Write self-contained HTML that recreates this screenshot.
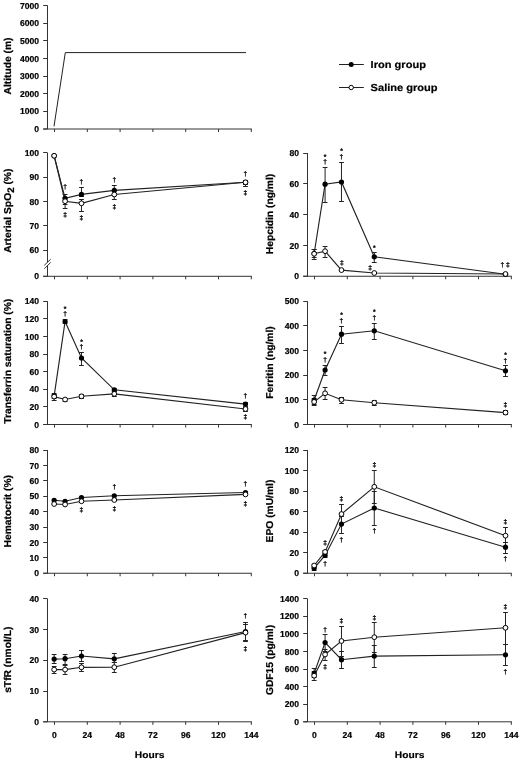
<!DOCTYPE html>
<html><head><meta charset="utf-8"><style>
html,body{margin:0;padding:0;background:#fff;overflow:hidden;}
svg{display:block;will-change:transform;}
text{font-family:"Liberation Sans",sans-serif;font-weight:bold;fill:#000;text-rendering:geometricPrecision;stroke:#000;stroke-width:0.2px;}
.tk{font-size:8.6px;}
.yl{font-size:10px;}
.lg{font-size:10.7px;}
.hr{font-size:10px;}
.sy{font-size:6.7px;stroke:#000;stroke-width:0.25px;}
</style></head><body>
<svg width="520" height="761" viewBox="0 0 520 761">
<rect width="520" height="761" fill="#fff"/>
<line x1="47.5" y1="5.5" x2="47.5" y2="129" stroke="#333" stroke-width="1"/>
<line x1="43.2" y1="129" x2="251.8048" y2="129" stroke="#333" stroke-width="1"/>
<line x1="54.50" y1="129" x2="54.50" y2="132" stroke="#333" stroke-width="1"/>
<line x1="87.30" y1="129" x2="87.30" y2="132" stroke="#333" stroke-width="1"/>
<line x1="120.10" y1="129" x2="120.10" y2="132" stroke="#333" stroke-width="1"/>
<line x1="152.90" y1="129" x2="152.90" y2="132" stroke="#333" stroke-width="1"/>
<line x1="185.70" y1="129" x2="185.70" y2="132" stroke="#333" stroke-width="1"/>
<line x1="218.50" y1="129" x2="218.50" y2="132" stroke="#333" stroke-width="1"/>
<line x1="251.30" y1="129" x2="251.30" y2="132" stroke="#333" stroke-width="1"/>
<line x1="43.2" y1="129.00" x2="47.5" y2="129.00" stroke="#333" stroke-width="1"/>
<text transform="translate(39.05,132.10) scale(1,1.0)" text-anchor="end" class="tk">0</text>
<line x1="43.2" y1="111.50" x2="47.5" y2="111.50" stroke="#333" stroke-width="1"/>
<text transform="translate(39.05,114.46) scale(1,1.0)" text-anchor="end" class="tk">1000</text>
<line x1="43.2" y1="93.50" x2="47.5" y2="93.50" stroke="#333" stroke-width="1"/>
<text transform="translate(39.05,96.82) scale(1,1.0)" text-anchor="end" class="tk">2000</text>
<line x1="43.2" y1="76.50" x2="47.5" y2="76.50" stroke="#333" stroke-width="1"/>
<text transform="translate(39.05,79.17) scale(1,1.0)" text-anchor="end" class="tk">3000</text>
<line x1="43.2" y1="58.50" x2="47.5" y2="58.50" stroke="#333" stroke-width="1"/>
<text transform="translate(39.05,61.53) scale(1,1.0)" text-anchor="end" class="tk">4000</text>
<line x1="43.2" y1="40.50" x2="47.5" y2="40.50" stroke="#333" stroke-width="1"/>
<text transform="translate(39.05,43.89) scale(1,1.0)" text-anchor="end" class="tk">5000</text>
<line x1="43.2" y1="23.50" x2="47.5" y2="23.50" stroke="#333" stroke-width="1"/>
<text transform="translate(39.05,26.24) scale(1,1.0)" text-anchor="end" class="tk">6000</text>
<line x1="43.2" y1="5.50" x2="47.5" y2="5.50" stroke="#333" stroke-width="1"/>
<text transform="translate(39.05,8.60) scale(1,1.0)" text-anchor="end" class="tk">7000</text>
<text transform="translate(11.2,66) rotate(-90) scale(1.027,1.0)" text-anchor="middle" class="yl">Altitude (m)</text>
<polyline points="54,126.3 65.3,52.6 246,52.6" fill="none" stroke="#222" stroke-width="1"/>
<line x1="339" y1="64.5" x2="363.8" y2="64.5" stroke="#222" stroke-width="1"/>
<circle cx="351.2" cy="64.4" r="2.5" fill="#000"/>
<text transform="translate(370.6,67.9) scale(1.035,0.95)" class="lg">Iron group</text>
<line x1="339" y1="87.5" x2="363.8" y2="87.5" stroke="#222" stroke-width="1"/>
<circle cx="351.2" cy="87.5" r="2.2" fill="#fff" stroke="#000" stroke-width="1"/>
<text transform="translate(370.6,91.2) scale(1.035,0.95)" class="lg">Saline group</text>
<line x1="47.5" y1="152.8" x2="47.5" y2="276.3" stroke="#333" stroke-width="1"/>
<line x1="43.2" y1="276.3" x2="251.8048" y2="276.3" stroke="#333" stroke-width="1"/>
<line x1="54.50" y1="276.3" x2="54.50" y2="279.3" stroke="#333" stroke-width="1"/>
<line x1="87.30" y1="276.3" x2="87.30" y2="279.3" stroke="#333" stroke-width="1"/>
<line x1="120.10" y1="276.3" x2="120.10" y2="279.3" stroke="#333" stroke-width="1"/>
<line x1="152.90" y1="276.3" x2="152.90" y2="279.3" stroke="#333" stroke-width="1"/>
<line x1="185.70" y1="276.3" x2="185.70" y2="279.3" stroke="#333" stroke-width="1"/>
<line x1="218.50" y1="276.3" x2="218.50" y2="279.3" stroke="#333" stroke-width="1"/>
<line x1="251.30" y1="276.3" x2="251.30" y2="279.3" stroke="#333" stroke-width="1"/>
<line x1="43.2" y1="276.30" x2="47.5" y2="276.30" stroke="#333" stroke-width="1"/>
<text transform="translate(39.05,279.40) scale(1,1.0)" text-anchor="end" class="tk">0</text>
<line x1="43.2" y1="250.50" x2="47.5" y2="250.50" stroke="#333" stroke-width="1"/>
<text transform="translate(39.05,253.10) scale(1,1.0)" text-anchor="end" class="tk">60</text>
<line x1="43.2" y1="225.50" x2="47.5" y2="225.50" stroke="#333" stroke-width="1"/>
<text transform="translate(39.05,228.80) scale(1,1.0)" text-anchor="end" class="tk">70</text>
<line x1="43.2" y1="201.50" x2="47.5" y2="201.50" stroke="#333" stroke-width="1"/>
<text transform="translate(39.05,204.50) scale(1,1.0)" text-anchor="end" class="tk">80</text>
<line x1="43.2" y1="177.50" x2="47.5" y2="177.50" stroke="#333" stroke-width="1"/>
<text transform="translate(39.05,180.20) scale(1,1.0)" text-anchor="end" class="tk">90</text>
<line x1="43.2" y1="152.50" x2="47.5" y2="152.50" stroke="#333" stroke-width="1"/>
<text transform="translate(39.05,155.90) scale(1,1.0)" text-anchor="end" class="tk">100</text>
<rect x="46" y="262.3" width="3" height="3.3" fill="#fff"/>
<line x1="44.2" y1="265.4" x2="50.7" y2="259.2" stroke="#333" stroke-width="1"/>
<line x1="44.4" y1="268.7" x2="50.7" y2="262.4" stroke="#333" stroke-width="1"/>
<text transform="translate(11.2,210.7) rotate(-90) scale(1.027,1.0)" text-anchor="middle" class="yl">Arterial SpO<tspan font-size="9.5" dy="2.9">2</tspan><tspan dy="-2.9"> (%)</tspan></text>
<line x1="65.08" y1="194.20" x2="65.08" y2="204.50" stroke="#222" stroke-width="1"/>
<line x1="62.68" y1="194.50" x2="67.48" y2="194.50" stroke="#222" stroke-width="1"/>
<line x1="62.68" y1="204.50" x2="67.48" y2="204.50" stroke="#222" stroke-width="1"/>
<line x1="81.48" y1="187.40" x2="81.48" y2="196.50" stroke="#222" stroke-width="1"/>
<line x1="79.08" y1="187.50" x2="83.88" y2="187.50" stroke="#222" stroke-width="1"/>
<line x1="79.08" y1="196.50" x2="83.88" y2="196.50" stroke="#222" stroke-width="1"/>
<line x1="114.28" y1="185.80" x2="114.28" y2="194.00" stroke="#222" stroke-width="1"/>
<line x1="111.88" y1="185.50" x2="116.68" y2="185.50" stroke="#222" stroke-width="1"/>
<line x1="111.88" y1="194.50" x2="116.68" y2="194.50" stroke="#222" stroke-width="1"/>
<line x1="245.49" y1="180.00" x2="245.49" y2="184.00" stroke="#222" stroke-width="1"/>
<line x1="243.09" y1="180.50" x2="247.89" y2="180.50" stroke="#222" stroke-width="1"/>
<line x1="243.09" y1="184.50" x2="247.89" y2="184.50" stroke="#222" stroke-width="1"/>
<line x1="65.08" y1="197.00" x2="65.08" y2="208.50" stroke="#222" stroke-width="1"/>
<line x1="62.68" y1="197.50" x2="67.48" y2="197.50" stroke="#222" stroke-width="1"/>
<line x1="62.68" y1="208.50" x2="67.48" y2="208.50" stroke="#222" stroke-width="1"/>
<line x1="81.48" y1="199.00" x2="81.48" y2="211.80" stroke="#222" stroke-width="1"/>
<line x1="79.08" y1="199.50" x2="83.88" y2="199.50" stroke="#222" stroke-width="1"/>
<line x1="79.08" y1="211.50" x2="83.88" y2="211.50" stroke="#222" stroke-width="1"/>
<line x1="114.28" y1="190.00" x2="114.28" y2="199.20" stroke="#222" stroke-width="1"/>
<line x1="111.88" y1="190.50" x2="116.68" y2="190.50" stroke="#222" stroke-width="1"/>
<line x1="111.88" y1="199.50" x2="116.68" y2="199.50" stroke="#222" stroke-width="1"/>
<line x1="245.49" y1="180.00" x2="245.49" y2="186.20" stroke="#222" stroke-width="1"/>
<line x1="243.09" y1="180.50" x2="247.89" y2="180.50" stroke="#222" stroke-width="1"/>
<line x1="243.09" y1="186.50" x2="247.89" y2="186.50" stroke="#222" stroke-width="1"/>
<polyline points="54.15,155.80 65.08,201.20 81.48,203.30 114.28,194.50 245.49,182.30" fill="none" stroke="#222" stroke-width="1.15"/>
<polyline points="54.15,155.80 65.08,198.30 81.48,194.40 114.28,190.40 245.49,182.30" fill="none" stroke="#222" stroke-width="1.15"/>
<circle cx="54.15" cy="155.80" r="2.6" fill="#000"/>
<circle cx="65.08" cy="198.30" r="2.6" fill="#000"/>
<circle cx="81.48" cy="194.40" r="2.6" fill="#000"/>
<circle cx="114.28" cy="190.40" r="2.6" fill="#000"/>
<circle cx="245.49" cy="182.30" r="2.6" fill="#000"/>
<circle cx="54.15" cy="155.80" r="2.4" fill="#fff" stroke="#000" stroke-width="1"/>
<circle cx="65.08" cy="201.20" r="2.4" fill="#fff" stroke="#000" stroke-width="1"/>
<circle cx="81.48" cy="203.30" r="2.4" fill="#fff" stroke="#000" stroke-width="1"/>
<circle cx="114.28" cy="194.50" r="2.4" fill="#fff" stroke="#000" stroke-width="1"/>
<circle cx="245.49" cy="182.30" r="2.4" fill="#fff" stroke="#000" stroke-width="1"/>
<text x="65.08" y="189.20" text-anchor="middle" class="sy">†</text>
<text x="65.08" y="216.70" text-anchor="middle" class="sy">‡</text>
<text x="81.48" y="183.70" text-anchor="middle" class="sy">†</text>
<text x="81.48" y="220.40" text-anchor="middle" class="sy">‡</text>
<text x="114.28" y="181.80" text-anchor="middle" class="sy">†</text>
<text x="114.28" y="208.50" text-anchor="middle" class="sy">‡</text>
<text x="245.49" y="176.20" text-anchor="middle" class="sy">†</text>
<text x="245.49" y="194.70" text-anchor="middle" class="sy">‡</text>
<line x1="47.5" y1="301.244" x2="47.5" y2="424.5" stroke="#333" stroke-width="1"/>
<line x1="43.2" y1="424.5" x2="251.8048" y2="424.5" stroke="#333" stroke-width="1"/>
<line x1="54.50" y1="424.5" x2="54.50" y2="427.5" stroke="#333" stroke-width="1"/>
<line x1="87.30" y1="424.5" x2="87.30" y2="427.5" stroke="#333" stroke-width="1"/>
<line x1="120.10" y1="424.5" x2="120.10" y2="427.5" stroke="#333" stroke-width="1"/>
<line x1="152.90" y1="424.5" x2="152.90" y2="427.5" stroke="#333" stroke-width="1"/>
<line x1="185.70" y1="424.5" x2="185.70" y2="427.5" stroke="#333" stroke-width="1"/>
<line x1="218.50" y1="424.5" x2="218.50" y2="427.5" stroke="#333" stroke-width="1"/>
<line x1="251.30" y1="424.5" x2="251.30" y2="427.5" stroke="#333" stroke-width="1"/>
<line x1="43.2" y1="424.50" x2="47.5" y2="424.50" stroke="#333" stroke-width="1"/>
<text transform="translate(39.05,427.60) scale(1,1.0)" text-anchor="end" class="tk">0</text>
<line x1="43.2" y1="406.50" x2="47.5" y2="406.50" stroke="#333" stroke-width="1"/>
<text transform="translate(39.05,409.99) scale(1,1.0)" text-anchor="end" class="tk">20</text>
<line x1="43.2" y1="389.50" x2="47.5" y2="389.50" stroke="#333" stroke-width="1"/>
<text transform="translate(39.05,392.39) scale(1,1.0)" text-anchor="end" class="tk">40</text>
<line x1="43.2" y1="371.50" x2="47.5" y2="371.50" stroke="#333" stroke-width="1"/>
<text transform="translate(39.05,374.78) scale(1,1.0)" text-anchor="end" class="tk">60</text>
<line x1="43.2" y1="354.50" x2="47.5" y2="354.50" stroke="#333" stroke-width="1"/>
<text transform="translate(39.05,357.17) scale(1,1.0)" text-anchor="end" class="tk">80</text>
<line x1="43.2" y1="336.50" x2="47.5" y2="336.50" stroke="#333" stroke-width="1"/>
<text transform="translate(39.05,339.56) scale(1,1.0)" text-anchor="end" class="tk">100</text>
<line x1="43.2" y1="318.50" x2="47.5" y2="318.50" stroke="#333" stroke-width="1"/>
<text transform="translate(39.05,321.95) scale(1,1.0)" text-anchor="end" class="tk">120</text>
<line x1="43.2" y1="301.50" x2="47.5" y2="301.50" stroke="#333" stroke-width="1"/>
<text transform="translate(39.05,304.35) scale(1,1.0)" text-anchor="end" class="tk">140</text>
<text transform="translate(11.2,361.2) rotate(-90) scale(1.027,1.0)" text-anchor="middle" class="yl">Transferrin saturation (%)</text>
<line x1="54.15" y1="393.80" x2="54.15" y2="398.00" stroke="#222" stroke-width="1"/>
<line x1="51.75" y1="393.50" x2="56.55" y2="393.50" stroke="#222" stroke-width="1"/>
<line x1="51.75" y1="398.50" x2="56.55" y2="398.50" stroke="#222" stroke-width="1"/>
<line x1="65.08" y1="319.80" x2="65.08" y2="323.30" stroke="#222" stroke-width="1"/>
<line x1="62.68" y1="319.50" x2="67.48" y2="319.50" stroke="#222" stroke-width="1"/>
<line x1="62.68" y1="323.50" x2="67.48" y2="323.50" stroke="#222" stroke-width="1"/>
<line x1="81.48" y1="352.40" x2="81.48" y2="365.20" stroke="#222" stroke-width="1"/>
<line x1="79.08" y1="352.50" x2="83.88" y2="352.50" stroke="#222" stroke-width="1"/>
<line x1="79.08" y1="365.50" x2="83.88" y2="365.50" stroke="#222" stroke-width="1"/>
<line x1="114.28" y1="388.10" x2="114.28" y2="391.50" stroke="#222" stroke-width="1"/>
<line x1="111.88" y1="388.50" x2="116.68" y2="388.50" stroke="#222" stroke-width="1"/>
<line x1="111.88" y1="391.50" x2="116.68" y2="391.50" stroke="#222" stroke-width="1"/>
<line x1="245.49" y1="402.00" x2="245.49" y2="406.00" stroke="#222" stroke-width="1"/>
<line x1="243.09" y1="402.50" x2="247.89" y2="402.50" stroke="#222" stroke-width="1"/>
<line x1="243.09" y1="406.50" x2="247.89" y2="406.50" stroke="#222" stroke-width="1"/>
<line x1="54.15" y1="394.50" x2="54.15" y2="400.20" stroke="#222" stroke-width="1"/>
<line x1="51.75" y1="394.50" x2="56.55" y2="394.50" stroke="#222" stroke-width="1"/>
<line x1="51.75" y1="400.50" x2="56.55" y2="400.50" stroke="#222" stroke-width="1"/>
<line x1="65.08" y1="398.00" x2="65.08" y2="401.00" stroke="#222" stroke-width="1"/>
<line x1="62.68" y1="398.50" x2="67.48" y2="398.50" stroke="#222" stroke-width="1"/>
<line x1="62.68" y1="401.50" x2="67.48" y2="401.50" stroke="#222" stroke-width="1"/>
<line x1="81.48" y1="394.20" x2="81.48" y2="398.80" stroke="#222" stroke-width="1"/>
<line x1="79.08" y1="394.50" x2="83.88" y2="394.50" stroke="#222" stroke-width="1"/>
<line x1="79.08" y1="398.50" x2="83.88" y2="398.50" stroke="#222" stroke-width="1"/>
<line x1="114.28" y1="391.80" x2="114.28" y2="396.20" stroke="#222" stroke-width="1"/>
<line x1="111.88" y1="391.50" x2="116.68" y2="391.50" stroke="#222" stroke-width="1"/>
<line x1="111.88" y1="396.50" x2="116.68" y2="396.50" stroke="#222" stroke-width="1"/>
<line x1="245.49" y1="407.00" x2="245.49" y2="411.00" stroke="#222" stroke-width="1"/>
<line x1="243.09" y1="407.50" x2="247.89" y2="407.50" stroke="#222" stroke-width="1"/>
<line x1="243.09" y1="411.50" x2="247.89" y2="411.50" stroke="#222" stroke-width="1"/>
<polyline points="54.15,396.60 65.08,399.50 81.48,396.30 114.28,393.85 245.49,409.00" fill="none" stroke="#222" stroke-width="1.15"/>
<polyline points="54.15,395.80 65.08,321.50 81.48,358.00 114.28,389.80 245.49,404.10" fill="none" stroke="#222" stroke-width="1.15"/>
<circle cx="54.15" cy="395.80" r="2.6" fill="#000"/>
<circle cx="65.08" cy="321.50" r="2.6" fill="#000"/>
<circle cx="81.48" cy="358.00" r="2.6" fill="#000"/>
<circle cx="114.28" cy="389.80" r="2.6" fill="#000"/>
<circle cx="245.49" cy="404.10" r="2.6" fill="#000"/>
<circle cx="54.15" cy="396.60" r="2.4" fill="#fff" stroke="#000" stroke-width="1"/>
<circle cx="65.08" cy="399.50" r="2.4" fill="#fff" stroke="#000" stroke-width="1"/>
<circle cx="81.48" cy="396.30" r="2.4" fill="#fff" stroke="#000" stroke-width="1"/>
<circle cx="114.28" cy="393.85" r="2.4" fill="#fff" stroke="#000" stroke-width="1"/>
<circle cx="245.49" cy="409.00" r="2.4" fill="#fff" stroke="#000" stroke-width="1"/>
<text x="65.08" y="310.60" text-anchor="middle" class="sy">*</text>
<text x="65.08" y="316.30" text-anchor="middle" class="sy">†</text>
<text x="81.48" y="344.30" text-anchor="middle" class="sy">*</text>
<text x="81.48" y="349.00" text-anchor="middle" class="sy">†</text>
<text x="245.49" y="398.30" text-anchor="middle" class="sy">†</text>
<text x="245.49" y="419.00" text-anchor="middle" class="sy">‡</text>
<line x1="47.5" y1="450.002" x2="47.5" y2="573.25" stroke="#333" stroke-width="1"/>
<line x1="43.2" y1="573.25" x2="251.8048" y2="573.25" stroke="#333" stroke-width="1"/>
<line x1="54.50" y1="573.25" x2="54.50" y2="576.25" stroke="#333" stroke-width="1"/>
<line x1="87.30" y1="573.25" x2="87.30" y2="576.25" stroke="#333" stroke-width="1"/>
<line x1="120.10" y1="573.25" x2="120.10" y2="576.25" stroke="#333" stroke-width="1"/>
<line x1="152.90" y1="573.25" x2="152.90" y2="576.25" stroke="#333" stroke-width="1"/>
<line x1="185.70" y1="573.25" x2="185.70" y2="576.25" stroke="#333" stroke-width="1"/>
<line x1="218.50" y1="573.25" x2="218.50" y2="576.25" stroke="#333" stroke-width="1"/>
<line x1="251.30" y1="573.25" x2="251.30" y2="576.25" stroke="#333" stroke-width="1"/>
<line x1="43.2" y1="573.25" x2="47.5" y2="573.25" stroke="#333" stroke-width="1"/>
<text transform="translate(39.05,576.35) scale(1,1.0)" text-anchor="end" class="tk">0</text>
<line x1="43.2" y1="557.50" x2="47.5" y2="557.50" stroke="#333" stroke-width="1"/>
<text transform="translate(39.05,560.95) scale(1,1.0)" text-anchor="end" class="tk">10</text>
<line x1="43.2" y1="542.50" x2="47.5" y2="542.50" stroke="#333" stroke-width="1"/>
<text transform="translate(39.05,545.54) scale(1,1.0)" text-anchor="end" class="tk">20</text>
<line x1="43.2" y1="527.50" x2="47.5" y2="527.50" stroke="#333" stroke-width="1"/>
<text transform="translate(39.05,530.13) scale(1,1.0)" text-anchor="end" class="tk">30</text>
<line x1="43.2" y1="511.50" x2="47.5" y2="511.50" stroke="#333" stroke-width="1"/>
<text transform="translate(39.05,514.73) scale(1,1.0)" text-anchor="end" class="tk">40</text>
<line x1="43.2" y1="496.50" x2="47.5" y2="496.50" stroke="#333" stroke-width="1"/>
<text transform="translate(39.05,499.32) scale(1,1.0)" text-anchor="end" class="tk">50</text>
<line x1="43.2" y1="480.50" x2="47.5" y2="480.50" stroke="#333" stroke-width="1"/>
<text transform="translate(39.05,483.92) scale(1,1.0)" text-anchor="end" class="tk">60</text>
<line x1="43.2" y1="465.50" x2="47.5" y2="465.50" stroke="#333" stroke-width="1"/>
<text transform="translate(39.05,468.51) scale(1,1.0)" text-anchor="end" class="tk">70</text>
<line x1="43.2" y1="450.50" x2="47.5" y2="450.50" stroke="#333" stroke-width="1"/>
<text transform="translate(39.05,453.10) scale(1,1.0)" text-anchor="end" class="tk">80</text>
<text transform="translate(11.2,511.2) rotate(-90) scale(1.027,1.0)" text-anchor="middle" class="yl">Hematocrit (%)</text>
<polyline points="54.15,504.00 65.08,504.50 81.48,501.25 114.28,500.00 245.49,494.40" fill="none" stroke="#222" stroke-width="1.15"/>
<polyline points="54.15,500.25 65.08,501.25 81.48,497.50 114.28,495.75 245.49,492.50" fill="none" stroke="#222" stroke-width="1.15"/>
<circle cx="54.15" cy="500.25" r="2.6" fill="#000"/>
<circle cx="65.08" cy="501.25" r="2.6" fill="#000"/>
<circle cx="81.48" cy="497.50" r="2.6" fill="#000"/>
<circle cx="114.28" cy="495.75" r="2.6" fill="#000"/>
<circle cx="245.49" cy="492.50" r="2.6" fill="#000"/>
<circle cx="54.15" cy="504.00" r="2.4" fill="#fff" stroke="#000" stroke-width="1"/>
<circle cx="65.08" cy="504.50" r="2.4" fill="#fff" stroke="#000" stroke-width="1"/>
<circle cx="81.48" cy="501.25" r="2.4" fill="#fff" stroke="#000" stroke-width="1"/>
<circle cx="114.28" cy="500.00" r="2.4" fill="#fff" stroke="#000" stroke-width="1"/>
<circle cx="245.49" cy="494.40" r="2.4" fill="#fff" stroke="#000" stroke-width="1"/>
<text x="81.48" y="511.70" text-anchor="middle" class="sy">‡</text>
<text x="114.28" y="489.30" text-anchor="middle" class="sy">†</text>
<text x="114.28" y="510.95" text-anchor="middle" class="sy">‡</text>
<text x="245.49" y="486.10" text-anchor="middle" class="sy">†</text>
<text x="245.49" y="506.20" text-anchor="middle" class="sy">‡</text>
<line x1="47.5" y1="598.76" x2="47.5" y2="721.8" stroke="#333" stroke-width="1"/>
<line x1="43.2" y1="721.8" x2="251.8048" y2="721.8" stroke="#333" stroke-width="1"/>
<line x1="54.50" y1="721.8" x2="54.50" y2="724.8" stroke="#333" stroke-width="1"/>
<line x1="87.30" y1="721.8" x2="87.30" y2="724.8" stroke="#333" stroke-width="1"/>
<line x1="120.10" y1="721.8" x2="120.10" y2="724.8" stroke="#333" stroke-width="1"/>
<line x1="152.90" y1="721.8" x2="152.90" y2="724.8" stroke="#333" stroke-width="1"/>
<line x1="185.70" y1="721.8" x2="185.70" y2="724.8" stroke="#333" stroke-width="1"/>
<line x1="218.50" y1="721.8" x2="218.50" y2="724.8" stroke="#333" stroke-width="1"/>
<line x1="251.30" y1="721.8" x2="251.30" y2="724.8" stroke="#333" stroke-width="1"/>
<line x1="43.2" y1="721.80" x2="47.5" y2="721.80" stroke="#333" stroke-width="1"/>
<text transform="translate(39.05,724.90) scale(1,1.0)" text-anchor="end" class="tk">0</text>
<line x1="43.2" y1="691.50" x2="47.5" y2="691.50" stroke="#333" stroke-width="1"/>
<text transform="translate(39.05,694.14) scale(1,1.0)" text-anchor="end" class="tk">10</text>
<line x1="43.2" y1="660.50" x2="47.5" y2="660.50" stroke="#333" stroke-width="1"/>
<text transform="translate(39.05,663.38) scale(1,1.0)" text-anchor="end" class="tk">20</text>
<line x1="43.2" y1="629.50" x2="47.5" y2="629.50" stroke="#333" stroke-width="1"/>
<text transform="translate(39.05,632.62) scale(1,1.0)" text-anchor="end" class="tk">30</text>
<line x1="43.2" y1="598.50" x2="47.5" y2="598.50" stroke="#333" stroke-width="1"/>
<text transform="translate(39.05,601.86) scale(1,1.0)" text-anchor="end" class="tk">40</text>
<text transform="translate(11.2,659.75) rotate(-90) scale(1.027,1.0)" text-anchor="middle" class="yl">sTfR (nmol/L)</text>
<line x1="54.15" y1="654.60" x2="54.15" y2="663.80" stroke="#222" stroke-width="1"/>
<line x1="51.75" y1="654.50" x2="56.55" y2="654.50" stroke="#222" stroke-width="1"/>
<line x1="51.75" y1="663.50" x2="56.55" y2="663.50" stroke="#222" stroke-width="1"/>
<line x1="65.08" y1="654.10" x2="65.08" y2="664.60" stroke="#222" stroke-width="1"/>
<line x1="62.68" y1="654.50" x2="67.48" y2="654.50" stroke="#222" stroke-width="1"/>
<line x1="62.68" y1="664.50" x2="67.48" y2="664.50" stroke="#222" stroke-width="1"/>
<line x1="81.48" y1="650.80" x2="81.48" y2="661.50" stroke="#222" stroke-width="1"/>
<line x1="79.08" y1="650.50" x2="83.88" y2="650.50" stroke="#222" stroke-width="1"/>
<line x1="79.08" y1="661.50" x2="83.88" y2="661.50" stroke="#222" stroke-width="1"/>
<line x1="114.28" y1="653.70" x2="114.28" y2="662.30" stroke="#222" stroke-width="1"/>
<line x1="111.88" y1="653.50" x2="116.68" y2="653.50" stroke="#222" stroke-width="1"/>
<line x1="111.88" y1="662.50" x2="116.68" y2="662.50" stroke="#222" stroke-width="1"/>
<line x1="245.49" y1="622.40" x2="245.49" y2="640.60" stroke="#222" stroke-width="1"/>
<line x1="243.09" y1="622.50" x2="247.89" y2="622.50" stroke="#222" stroke-width="1"/>
<line x1="243.09" y1="640.50" x2="247.89" y2="640.50" stroke="#222" stroke-width="1"/>
<line x1="54.15" y1="666.90" x2="54.15" y2="673.50" stroke="#222" stroke-width="1"/>
<line x1="51.75" y1="666.50" x2="56.55" y2="666.50" stroke="#222" stroke-width="1"/>
<line x1="51.75" y1="673.50" x2="56.55" y2="673.50" stroke="#222" stroke-width="1"/>
<line x1="65.08" y1="665.40" x2="65.08" y2="674.10" stroke="#222" stroke-width="1"/>
<line x1="62.68" y1="665.50" x2="67.48" y2="665.50" stroke="#222" stroke-width="1"/>
<line x1="62.68" y1="674.50" x2="67.48" y2="674.50" stroke="#222" stroke-width="1"/>
<line x1="81.48" y1="663.00" x2="81.48" y2="671.20" stroke="#222" stroke-width="1"/>
<line x1="79.08" y1="663.50" x2="83.88" y2="663.50" stroke="#222" stroke-width="1"/>
<line x1="79.08" y1="671.50" x2="83.88" y2="671.50" stroke="#222" stroke-width="1"/>
<line x1="114.28" y1="662.50" x2="114.28" y2="672.00" stroke="#222" stroke-width="1"/>
<line x1="111.88" y1="662.50" x2="116.68" y2="662.50" stroke="#222" stroke-width="1"/>
<line x1="111.88" y1="672.50" x2="116.68" y2="672.50" stroke="#222" stroke-width="1"/>
<line x1="245.49" y1="624.40" x2="245.49" y2="641.50" stroke="#222" stroke-width="1"/>
<line x1="243.09" y1="624.50" x2="247.89" y2="624.50" stroke="#222" stroke-width="1"/>
<line x1="243.09" y1="641.50" x2="247.89" y2="641.50" stroke="#222" stroke-width="1"/>
<polyline points="54.15,669.60 65.08,669.60 81.48,667.30 114.28,667.20 245.49,632.60" fill="none" stroke="#222" stroke-width="1.15"/>
<polyline points="54.15,659.10 65.08,658.70 81.48,656.00 114.28,658.80 245.49,631.50" fill="none" stroke="#222" stroke-width="1.15"/>
<circle cx="54.15" cy="659.10" r="2.6" fill="#000"/>
<circle cx="65.08" cy="658.70" r="2.6" fill="#000"/>
<circle cx="81.48" cy="656.00" r="2.6" fill="#000"/>
<circle cx="114.28" cy="658.80" r="2.6" fill="#000"/>
<circle cx="245.49" cy="631.50" r="2.6" fill="#000"/>
<circle cx="54.15" cy="669.60" r="2.4" fill="#fff" stroke="#000" stroke-width="1"/>
<circle cx="65.08" cy="669.60" r="2.4" fill="#fff" stroke="#000" stroke-width="1"/>
<circle cx="81.48" cy="667.30" r="2.4" fill="#fff" stroke="#000" stroke-width="1"/>
<circle cx="114.28" cy="667.20" r="2.4" fill="#fff" stroke="#000" stroke-width="1"/>
<circle cx="245.49" cy="632.60" r="2.4" fill="#fff" stroke="#000" stroke-width="1"/>
<text x="245.49" y="618.20" text-anchor="middle" class="sy">†</text>
<text x="245.49" y="651.20" text-anchor="middle" class="sy">‡</text>
<line x1="307.5" y1="153.002" x2="307.5" y2="276.25" stroke="#333" stroke-width="1"/>
<line x1="303.2" y1="276.25" x2="511.8048" y2="276.25" stroke="#333" stroke-width="1"/>
<line x1="314.50" y1="276.25" x2="314.50" y2="279.25" stroke="#333" stroke-width="1"/>
<line x1="347.30" y1="276.25" x2="347.30" y2="279.25" stroke="#333" stroke-width="1"/>
<line x1="380.10" y1="276.25" x2="380.10" y2="279.25" stroke="#333" stroke-width="1"/>
<line x1="412.90" y1="276.25" x2="412.90" y2="279.25" stroke="#333" stroke-width="1"/>
<line x1="445.70" y1="276.25" x2="445.70" y2="279.25" stroke="#333" stroke-width="1"/>
<line x1="478.50" y1="276.25" x2="478.50" y2="279.25" stroke="#333" stroke-width="1"/>
<line x1="511.30" y1="276.25" x2="511.30" y2="279.25" stroke="#333" stroke-width="1"/>
<line x1="303.2" y1="276.25" x2="307.5" y2="276.25" stroke="#333" stroke-width="1"/>
<text transform="translate(299.05,279.35) scale(1,1.0)" text-anchor="end" class="tk">0</text>
<line x1="303.2" y1="245.50" x2="307.5" y2="245.50" stroke="#333" stroke-width="1"/>
<text transform="translate(299.05,248.54) scale(1,1.0)" text-anchor="end" class="tk">20</text>
<line x1="303.2" y1="214.50" x2="307.5" y2="214.50" stroke="#333" stroke-width="1"/>
<text transform="translate(299.05,217.73) scale(1,1.0)" text-anchor="end" class="tk">40</text>
<line x1="303.2" y1="183.50" x2="307.5" y2="183.50" stroke="#333" stroke-width="1"/>
<text transform="translate(299.05,186.92) scale(1,1.0)" text-anchor="end" class="tk">60</text>
<line x1="303.2" y1="153.50" x2="307.5" y2="153.50" stroke="#333" stroke-width="1"/>
<text transform="translate(299.05,156.10) scale(1,1.0)" text-anchor="end" class="tk">80</text>
<text transform="translate(273.4,214) rotate(-90) scale(1.027,1.0)" text-anchor="middle" class="yl">Hepcidin (ng/ml)</text>
<line x1="314.15" y1="249.80" x2="314.15" y2="257.50" stroke="#222" stroke-width="1"/>
<line x1="311.75" y1="249.50" x2="316.55" y2="249.50" stroke="#222" stroke-width="1"/>
<line x1="311.75" y1="257.50" x2="316.55" y2="257.50" stroke="#222" stroke-width="1"/>
<line x1="325.08" y1="167.30" x2="325.08" y2="202.00" stroke="#222" stroke-width="1"/>
<line x1="322.68" y1="167.50" x2="327.48" y2="167.50" stroke="#222" stroke-width="1"/>
<line x1="322.68" y1="202.50" x2="327.48" y2="202.50" stroke="#222" stroke-width="1"/>
<line x1="341.48" y1="162.50" x2="341.48" y2="201.60" stroke="#222" stroke-width="1"/>
<line x1="339.08" y1="162.50" x2="343.88" y2="162.50" stroke="#222" stroke-width="1"/>
<line x1="339.08" y1="201.50" x2="343.88" y2="201.50" stroke="#222" stroke-width="1"/>
<line x1="374.28" y1="252.20" x2="374.28" y2="262.20" stroke="#222" stroke-width="1"/>
<line x1="371.88" y1="252.50" x2="376.68" y2="252.50" stroke="#222" stroke-width="1"/>
<line x1="371.88" y1="262.50" x2="376.68" y2="262.50" stroke="#222" stroke-width="1"/>
<line x1="314.15" y1="249.30" x2="314.15" y2="259.00" stroke="#222" stroke-width="1"/>
<line x1="311.75" y1="249.50" x2="316.55" y2="249.50" stroke="#222" stroke-width="1"/>
<line x1="311.75" y1="259.50" x2="316.55" y2="259.50" stroke="#222" stroke-width="1"/>
<line x1="325.08" y1="246.50" x2="325.08" y2="257.30" stroke="#222" stroke-width="1"/>
<line x1="322.68" y1="246.50" x2="327.48" y2="246.50" stroke="#222" stroke-width="1"/>
<line x1="322.68" y1="257.50" x2="327.48" y2="257.50" stroke="#222" stroke-width="1"/>
<polyline points="314.15,253.80 325.08,251.20 341.48,270.10 374.28,273.00 505.49,274.00" fill="none" stroke="#222" stroke-width="1.15"/>
<polyline points="314.15,253.50 325.08,184.20 341.48,182.00 374.28,256.80 505.49,274.30" fill="none" stroke="#222" stroke-width="1.15"/>
<circle cx="314.15" cy="253.50" r="2.6" fill="#000"/>
<circle cx="325.08" cy="184.20" r="2.6" fill="#000"/>
<circle cx="341.48" cy="182.00" r="2.6" fill="#000"/>
<circle cx="374.28" cy="256.80" r="2.6" fill="#000"/>
<circle cx="505.49" cy="274.30" r="2.6" fill="#000"/>
<circle cx="314.15" cy="253.80" r="2.4" fill="#fff" stroke="#000" stroke-width="1"/>
<circle cx="325.08" cy="251.20" r="2.4" fill="#fff" stroke="#000" stroke-width="1"/>
<circle cx="341.48" cy="270.10" r="2.4" fill="#fff" stroke="#000" stroke-width="1"/>
<circle cx="374.28" cy="273.00" r="2.4" fill="#fff" stroke="#000" stroke-width="1"/>
<circle cx="505.49" cy="274.00" r="2.4" fill="#fff" stroke="#000" stroke-width="1"/>
<text x="325.08" y="158.50" text-anchor="middle" class="sy">*</text>
<text x="325.08" y="164.10" text-anchor="middle" class="sy">†</text>
<text x="341.48" y="153.10" text-anchor="middle" class="sy">*</text>
<text x="341.48" y="158.80" text-anchor="middle" class="sy">†</text>
<text x="374.28" y="250.40" text-anchor="middle" class="sy">*</text>
<text x="341.98" y="264.70" text-anchor="middle" class="sy">‡</text>
<text x="370.18" y="269.60" text-anchor="middle" class="sy">‡</text>
<text x="502.49" y="267.20" text-anchor="middle" class="sy">†</text>
<text x="507.89" y="266.70" text-anchor="middle" class="sy">‡</text>
<line x1="307.5" y1="301.25" x2="307.5" y2="424.5" stroke="#333" stroke-width="1"/>
<line x1="303.2" y1="424.5" x2="511.8048" y2="424.5" stroke="#333" stroke-width="1"/>
<line x1="314.50" y1="424.5" x2="314.50" y2="427.5" stroke="#333" stroke-width="1"/>
<line x1="347.30" y1="424.5" x2="347.30" y2="427.5" stroke="#333" stroke-width="1"/>
<line x1="380.10" y1="424.5" x2="380.10" y2="427.5" stroke="#333" stroke-width="1"/>
<line x1="412.90" y1="424.5" x2="412.90" y2="427.5" stroke="#333" stroke-width="1"/>
<line x1="445.70" y1="424.5" x2="445.70" y2="427.5" stroke="#333" stroke-width="1"/>
<line x1="478.50" y1="424.5" x2="478.50" y2="427.5" stroke="#333" stroke-width="1"/>
<line x1="511.30" y1="424.5" x2="511.30" y2="427.5" stroke="#333" stroke-width="1"/>
<line x1="303.2" y1="424.50" x2="307.5" y2="424.50" stroke="#333" stroke-width="1"/>
<text transform="translate(299.05,427.60) scale(1,1.0)" text-anchor="end" class="tk">0</text>
<line x1="303.2" y1="399.50" x2="307.5" y2="399.50" stroke="#333" stroke-width="1"/>
<text transform="translate(299.05,402.95) scale(1,1.0)" text-anchor="end" class="tk">100</text>
<line x1="303.2" y1="375.50" x2="307.5" y2="375.50" stroke="#333" stroke-width="1"/>
<text transform="translate(299.05,378.30) scale(1,1.0)" text-anchor="end" class="tk">200</text>
<line x1="303.2" y1="350.50" x2="307.5" y2="350.50" stroke="#333" stroke-width="1"/>
<text transform="translate(299.05,353.65) scale(1,1.0)" text-anchor="end" class="tk">300</text>
<line x1="303.2" y1="325.50" x2="307.5" y2="325.50" stroke="#333" stroke-width="1"/>
<text transform="translate(299.05,329.00) scale(1,1.0)" text-anchor="end" class="tk">400</text>
<line x1="303.2" y1="301.50" x2="307.5" y2="301.50" stroke="#333" stroke-width="1"/>
<text transform="translate(299.05,304.35) scale(1,1.0)" text-anchor="end" class="tk">500</text>
<text transform="translate(273.4,362.5) rotate(-90) scale(1.027,1.0)" text-anchor="middle" class="yl">Ferritin (ng/ml)</text>
<line x1="314.15" y1="395.70" x2="314.15" y2="404.30" stroke="#222" stroke-width="1"/>
<line x1="311.75" y1="395.50" x2="316.55" y2="395.50" stroke="#222" stroke-width="1"/>
<line x1="311.75" y1="404.50" x2="316.55" y2="404.50" stroke="#222" stroke-width="1"/>
<line x1="325.08" y1="365.50" x2="325.08" y2="375.30" stroke="#222" stroke-width="1"/>
<line x1="322.68" y1="365.50" x2="327.48" y2="365.50" stroke="#222" stroke-width="1"/>
<line x1="322.68" y1="375.50" x2="327.48" y2="375.50" stroke="#222" stroke-width="1"/>
<line x1="341.48" y1="326.40" x2="341.48" y2="343.20" stroke="#222" stroke-width="1"/>
<line x1="339.08" y1="326.50" x2="343.88" y2="326.50" stroke="#222" stroke-width="1"/>
<line x1="339.08" y1="343.50" x2="343.88" y2="343.50" stroke="#222" stroke-width="1"/>
<line x1="374.28" y1="323.20" x2="374.28" y2="339.20" stroke="#222" stroke-width="1"/>
<line x1="371.88" y1="323.50" x2="376.68" y2="323.50" stroke="#222" stroke-width="1"/>
<line x1="371.88" y1="339.50" x2="376.68" y2="339.50" stroke="#222" stroke-width="1"/>
<line x1="505.49" y1="365.70" x2="505.49" y2="376.60" stroke="#222" stroke-width="1"/>
<line x1="503.09" y1="365.50" x2="507.89" y2="365.50" stroke="#222" stroke-width="1"/>
<line x1="503.09" y1="376.50" x2="507.89" y2="376.50" stroke="#222" stroke-width="1"/>
<line x1="314.15" y1="398.50" x2="314.15" y2="405.00" stroke="#222" stroke-width="1"/>
<line x1="311.75" y1="398.50" x2="316.55" y2="398.50" stroke="#222" stroke-width="1"/>
<line x1="311.75" y1="405.50" x2="316.55" y2="405.50" stroke="#222" stroke-width="1"/>
<line x1="325.08" y1="387.70" x2="325.08" y2="399.30" stroke="#222" stroke-width="1"/>
<line x1="322.68" y1="387.50" x2="327.48" y2="387.50" stroke="#222" stroke-width="1"/>
<line x1="322.68" y1="399.50" x2="327.48" y2="399.50" stroke="#222" stroke-width="1"/>
<line x1="341.48" y1="397.00" x2="341.48" y2="403.20" stroke="#222" stroke-width="1"/>
<line x1="339.08" y1="397.50" x2="343.88" y2="397.50" stroke="#222" stroke-width="1"/>
<line x1="339.08" y1="403.50" x2="343.88" y2="403.50" stroke="#222" stroke-width="1"/>
<line x1="374.28" y1="400.20" x2="374.28" y2="405.00" stroke="#222" stroke-width="1"/>
<line x1="371.88" y1="400.50" x2="376.68" y2="400.50" stroke="#222" stroke-width="1"/>
<line x1="371.88" y1="405.50" x2="376.68" y2="405.50" stroke="#222" stroke-width="1"/>
<line x1="505.49" y1="410.80" x2="505.49" y2="414.20" stroke="#222" stroke-width="1"/>
<line x1="503.09" y1="410.50" x2="507.89" y2="410.50" stroke="#222" stroke-width="1"/>
<line x1="503.09" y1="414.50" x2="507.89" y2="414.50" stroke="#222" stroke-width="1"/>
<polyline points="314.15,401.85 325.08,393.30 341.48,399.80 374.28,402.70 505.49,412.60" fill="none" stroke="#222" stroke-width="1.15"/>
<polyline points="314.15,400.00 325.08,370.00 341.48,334.20 374.28,330.80 505.49,370.80" fill="none" stroke="#222" stroke-width="1.15"/>
<circle cx="314.15" cy="400.00" r="2.6" fill="#000"/>
<circle cx="325.08" cy="370.00" r="2.6" fill="#000"/>
<circle cx="341.48" cy="334.20" r="2.6" fill="#000"/>
<circle cx="374.28" cy="330.80" r="2.6" fill="#000"/>
<circle cx="505.49" cy="370.80" r="2.6" fill="#000"/>
<circle cx="314.15" cy="401.85" r="2.4" fill="#fff" stroke="#000" stroke-width="1"/>
<circle cx="325.08" cy="393.30" r="2.4" fill="#fff" stroke="#000" stroke-width="1"/>
<circle cx="341.48" cy="399.80" r="2.4" fill="#fff" stroke="#000" stroke-width="1"/>
<circle cx="374.28" cy="402.70" r="2.4" fill="#fff" stroke="#000" stroke-width="1"/>
<circle cx="505.49" cy="412.60" r="2.4" fill="#fff" stroke="#000" stroke-width="1"/>
<text x="325.08" y="356.30" text-anchor="middle" class="sy">*</text>
<text x="325.08" y="362.00" text-anchor="middle" class="sy">†</text>
<text x="341.48" y="317.00" text-anchor="middle" class="sy">*</text>
<text x="341.48" y="322.70" text-anchor="middle" class="sy">†</text>
<text x="374.28" y="314.20" text-anchor="middle" class="sy">*</text>
<text x="374.28" y="319.90" text-anchor="middle" class="sy">†</text>
<text x="505.49" y="356.80" text-anchor="middle" class="sy">*</text>
<text x="505.49" y="362.50" text-anchor="middle" class="sy">†</text>
<text x="505.49" y="406.50" text-anchor="middle" class="sy">‡</text>
<line x1="307.5" y1="450.01" x2="307.5" y2="573.25" stroke="#333" stroke-width="1"/>
<line x1="303.2" y1="573.25" x2="511.8048" y2="573.25" stroke="#333" stroke-width="1"/>
<line x1="314.50" y1="573.25" x2="314.50" y2="576.25" stroke="#333" stroke-width="1"/>
<line x1="347.30" y1="573.25" x2="347.30" y2="576.25" stroke="#333" stroke-width="1"/>
<line x1="380.10" y1="573.25" x2="380.10" y2="576.25" stroke="#333" stroke-width="1"/>
<line x1="412.90" y1="573.25" x2="412.90" y2="576.25" stroke="#333" stroke-width="1"/>
<line x1="445.70" y1="573.25" x2="445.70" y2="576.25" stroke="#333" stroke-width="1"/>
<line x1="478.50" y1="573.25" x2="478.50" y2="576.25" stroke="#333" stroke-width="1"/>
<line x1="511.30" y1="573.25" x2="511.30" y2="576.25" stroke="#333" stroke-width="1"/>
<line x1="303.2" y1="573.25" x2="307.5" y2="573.25" stroke="#333" stroke-width="1"/>
<text transform="translate(299.05,576.35) scale(1,1.0)" text-anchor="end" class="tk">0</text>
<line x1="303.2" y1="552.50" x2="307.5" y2="552.50" stroke="#333" stroke-width="1"/>
<text transform="translate(299.05,555.81) scale(1,1.0)" text-anchor="end" class="tk">20</text>
<line x1="303.2" y1="532.50" x2="307.5" y2="532.50" stroke="#333" stroke-width="1"/>
<text transform="translate(299.05,535.27) scale(1,1.0)" text-anchor="end" class="tk">40</text>
<line x1="303.2" y1="511.50" x2="307.5" y2="511.50" stroke="#333" stroke-width="1"/>
<text transform="translate(299.05,514.73) scale(1,1.0)" text-anchor="end" class="tk">60</text>
<line x1="303.2" y1="491.50" x2="307.5" y2="491.50" stroke="#333" stroke-width="1"/>
<text transform="translate(299.05,494.19) scale(1,1.0)" text-anchor="end" class="tk">80</text>
<line x1="303.2" y1="470.50" x2="307.5" y2="470.50" stroke="#333" stroke-width="1"/>
<text transform="translate(299.05,473.65) scale(1,1.0)" text-anchor="end" class="tk">100</text>
<line x1="303.2" y1="450.50" x2="307.5" y2="450.50" stroke="#333" stroke-width="1"/>
<text transform="translate(299.05,453.11) scale(1,1.0)" text-anchor="end" class="tk">120</text>
<text transform="translate(273.4,511) rotate(-90) scale(1.027,1.0)" text-anchor="middle" class="yl">EPO (mU/ml)</text>
<line x1="314.15" y1="566.50" x2="314.15" y2="570.00" stroke="#222" stroke-width="1"/>
<line x1="311.75" y1="566.50" x2="316.55" y2="566.50" stroke="#222" stroke-width="1"/>
<line x1="311.75" y1="570.50" x2="316.55" y2="570.50" stroke="#222" stroke-width="1"/>
<line x1="325.08" y1="553.50" x2="325.08" y2="557.50" stroke="#222" stroke-width="1"/>
<line x1="322.68" y1="553.50" x2="327.48" y2="553.50" stroke="#222" stroke-width="1"/>
<line x1="322.68" y1="557.50" x2="327.48" y2="557.50" stroke="#222" stroke-width="1"/>
<line x1="341.48" y1="516.00" x2="341.48" y2="533.00" stroke="#222" stroke-width="1"/>
<line x1="339.08" y1="516.50" x2="343.88" y2="516.50" stroke="#222" stroke-width="1"/>
<line x1="339.08" y1="533.50" x2="343.88" y2="533.50" stroke="#222" stroke-width="1"/>
<line x1="374.28" y1="491.30" x2="374.28" y2="525.60" stroke="#222" stroke-width="1"/>
<line x1="371.88" y1="491.50" x2="376.68" y2="491.50" stroke="#222" stroke-width="1"/>
<line x1="371.88" y1="525.50" x2="376.68" y2="525.50" stroke="#222" stroke-width="1"/>
<line x1="505.49" y1="542.30" x2="505.49" y2="553.00" stroke="#222" stroke-width="1"/>
<line x1="503.09" y1="542.50" x2="507.89" y2="542.50" stroke="#222" stroke-width="1"/>
<line x1="503.09" y1="553.50" x2="507.89" y2="553.50" stroke="#222" stroke-width="1"/>
<line x1="314.15" y1="564.00" x2="314.15" y2="567.00" stroke="#222" stroke-width="1"/>
<line x1="311.75" y1="564.50" x2="316.55" y2="564.50" stroke="#222" stroke-width="1"/>
<line x1="311.75" y1="567.50" x2="316.55" y2="567.50" stroke="#222" stroke-width="1"/>
<line x1="325.08" y1="550.50" x2="325.08" y2="553.00" stroke="#222" stroke-width="1"/>
<line x1="322.68" y1="550.50" x2="327.48" y2="550.50" stroke="#222" stroke-width="1"/>
<line x1="322.68" y1="553.50" x2="327.48" y2="553.50" stroke="#222" stroke-width="1"/>
<line x1="341.48" y1="504.60" x2="341.48" y2="523.00" stroke="#222" stroke-width="1"/>
<line x1="339.08" y1="504.50" x2="343.88" y2="504.50" stroke="#222" stroke-width="1"/>
<line x1="339.08" y1="523.50" x2="343.88" y2="523.50" stroke="#222" stroke-width="1"/>
<line x1="374.28" y1="470.30" x2="374.28" y2="503.60" stroke="#222" stroke-width="1"/>
<line x1="371.88" y1="470.50" x2="376.68" y2="470.50" stroke="#222" stroke-width="1"/>
<line x1="371.88" y1="503.50" x2="376.68" y2="503.50" stroke="#222" stroke-width="1"/>
<line x1="505.49" y1="527.10" x2="505.49" y2="542.30" stroke="#222" stroke-width="1"/>
<line x1="503.09" y1="527.50" x2="507.89" y2="527.50" stroke="#222" stroke-width="1"/>
<line x1="503.09" y1="542.50" x2="507.89" y2="542.50" stroke="#222" stroke-width="1"/>
<polyline points="314.15,565.50 325.08,551.90 341.48,514.05 374.28,486.80 505.49,535.70" fill="none" stroke="#222" stroke-width="1.15"/>
<polyline points="314.15,568.20 325.08,555.40 341.48,524.10 374.28,508.00 505.49,547.20" fill="none" stroke="#222" stroke-width="1.15"/>
<circle cx="314.15" cy="568.20" r="2.6" fill="#000"/>
<circle cx="325.08" cy="555.40" r="2.6" fill="#000"/>
<circle cx="341.48" cy="524.10" r="2.6" fill="#000"/>
<circle cx="374.28" cy="508.00" r="2.6" fill="#000"/>
<circle cx="505.49" cy="547.20" r="2.6" fill="#000"/>
<circle cx="314.15" cy="565.50" r="2.4" fill="#fff" stroke="#000" stroke-width="1"/>
<circle cx="325.08" cy="551.90" r="2.4" fill="#fff" stroke="#000" stroke-width="1"/>
<circle cx="341.48" cy="514.05" r="2.4" fill="#fff" stroke="#000" stroke-width="1"/>
<circle cx="374.28" cy="486.80" r="2.4" fill="#fff" stroke="#000" stroke-width="1"/>
<circle cx="505.49" cy="535.70" r="2.4" fill="#fff" stroke="#000" stroke-width="1"/>
<text x="325.08" y="545.00" text-anchor="middle" class="sy">‡</text>
<text x="325.08" y="566.10" text-anchor="middle" class="sy">†</text>
<text x="341.48" y="501.10" text-anchor="middle" class="sy">‡</text>
<text x="341.48" y="542.00" text-anchor="middle" class="sy">†</text>
<text x="374.28" y="467.00" text-anchor="middle" class="sy">‡</text>
<text x="374.28" y="533.40" text-anchor="middle" class="sy">†</text>
<text x="505.49" y="523.90" text-anchor="middle" class="sy">‡</text>
<text x="505.49" y="561.30" text-anchor="middle" class="sy">†</text>
<line x1="307.5" y1="598.7959999999999" x2="307.5" y2="721.8" stroke="#333" stroke-width="1"/>
<line x1="303.2" y1="721.8" x2="511.8048" y2="721.8" stroke="#333" stroke-width="1"/>
<line x1="314.50" y1="721.8" x2="314.50" y2="724.8" stroke="#333" stroke-width="1"/>
<line x1="347.30" y1="721.8" x2="347.30" y2="724.8" stroke="#333" stroke-width="1"/>
<line x1="380.10" y1="721.8" x2="380.10" y2="724.8" stroke="#333" stroke-width="1"/>
<line x1="412.90" y1="721.8" x2="412.90" y2="724.8" stroke="#333" stroke-width="1"/>
<line x1="445.70" y1="721.8" x2="445.70" y2="724.8" stroke="#333" stroke-width="1"/>
<line x1="478.50" y1="721.8" x2="478.50" y2="724.8" stroke="#333" stroke-width="1"/>
<line x1="511.30" y1="721.8" x2="511.30" y2="724.8" stroke="#333" stroke-width="1"/>
<line x1="303.2" y1="721.80" x2="307.5" y2="721.80" stroke="#333" stroke-width="1"/>
<text transform="translate(299.05,724.90) scale(1,1.0)" text-anchor="end" class="tk">0</text>
<line x1="303.2" y1="704.50" x2="307.5" y2="704.50" stroke="#333" stroke-width="1"/>
<text transform="translate(299.05,707.33) scale(1,1.0)" text-anchor="end" class="tk">200</text>
<line x1="303.2" y1="686.50" x2="307.5" y2="686.50" stroke="#333" stroke-width="1"/>
<text transform="translate(299.05,689.76) scale(1,1.0)" text-anchor="end" class="tk">400</text>
<line x1="303.2" y1="669.50" x2="307.5" y2="669.50" stroke="#333" stroke-width="1"/>
<text transform="translate(299.05,672.19) scale(1,1.0)" text-anchor="end" class="tk">600</text>
<line x1="303.2" y1="651.50" x2="307.5" y2="651.50" stroke="#333" stroke-width="1"/>
<text transform="translate(299.05,654.61) scale(1,1.0)" text-anchor="end" class="tk">800</text>
<line x1="303.2" y1="633.50" x2="307.5" y2="633.50" stroke="#333" stroke-width="1"/>
<text transform="translate(299.05,637.04) scale(1,1.0)" text-anchor="end" class="tk">1000</text>
<line x1="303.2" y1="616.50" x2="307.5" y2="616.50" stroke="#333" stroke-width="1"/>
<text transform="translate(299.05,619.47) scale(1,1.0)" text-anchor="end" class="tk">1200</text>
<line x1="303.2" y1="598.50" x2="307.5" y2="598.50" stroke="#333" stroke-width="1"/>
<text transform="translate(299.05,601.90) scale(1,1.0)" text-anchor="end" class="tk">1400</text>
<text transform="translate(273.4,660.0) rotate(-90) scale(1.027,1.0)" text-anchor="middle" class="yl">GDF15 (pg/ml)</text>
<line x1="314.15" y1="668.80" x2="314.15" y2="677.00" stroke="#222" stroke-width="1"/>
<line x1="311.75" y1="668.50" x2="316.55" y2="668.50" stroke="#222" stroke-width="1"/>
<line x1="311.75" y1="677.50" x2="316.55" y2="677.50" stroke="#222" stroke-width="1"/>
<line x1="325.08" y1="634.40" x2="325.08" y2="651.70" stroke="#222" stroke-width="1"/>
<line x1="322.68" y1="634.50" x2="327.48" y2="634.50" stroke="#222" stroke-width="1"/>
<line x1="322.68" y1="651.50" x2="327.48" y2="651.50" stroke="#222" stroke-width="1"/>
<line x1="341.48" y1="651.70" x2="341.48" y2="668.30" stroke="#222" stroke-width="1"/>
<line x1="339.08" y1="651.50" x2="343.88" y2="651.50" stroke="#222" stroke-width="1"/>
<line x1="339.08" y1="668.50" x2="343.88" y2="668.50" stroke="#222" stroke-width="1"/>
<line x1="374.28" y1="645.30" x2="374.28" y2="667.40" stroke="#222" stroke-width="1"/>
<line x1="371.88" y1="645.50" x2="376.68" y2="645.50" stroke="#222" stroke-width="1"/>
<line x1="371.88" y1="667.50" x2="376.68" y2="667.50" stroke="#222" stroke-width="1"/>
<line x1="505.49" y1="644.60" x2="505.49" y2="665.20" stroke="#222" stroke-width="1"/>
<line x1="503.09" y1="644.50" x2="507.89" y2="644.50" stroke="#222" stroke-width="1"/>
<line x1="503.09" y1="665.50" x2="507.89" y2="665.50" stroke="#222" stroke-width="1"/>
<line x1="314.15" y1="671.00" x2="314.15" y2="680.70" stroke="#222" stroke-width="1"/>
<line x1="311.75" y1="671.50" x2="316.55" y2="671.50" stroke="#222" stroke-width="1"/>
<line x1="311.75" y1="680.50" x2="316.55" y2="680.50" stroke="#222" stroke-width="1"/>
<line x1="325.08" y1="649.40" x2="325.08" y2="660.00" stroke="#222" stroke-width="1"/>
<line x1="322.68" y1="649.50" x2="327.48" y2="649.50" stroke="#222" stroke-width="1"/>
<line x1="322.68" y1="660.50" x2="327.48" y2="660.50" stroke="#222" stroke-width="1"/>
<line x1="341.48" y1="626.00" x2="341.48" y2="656.30" stroke="#222" stroke-width="1"/>
<line x1="339.08" y1="626.50" x2="343.88" y2="626.50" stroke="#222" stroke-width="1"/>
<line x1="339.08" y1="656.50" x2="343.88" y2="656.50" stroke="#222" stroke-width="1"/>
<line x1="374.28" y1="622.50" x2="374.28" y2="652.80" stroke="#222" stroke-width="1"/>
<line x1="371.88" y1="622.50" x2="376.68" y2="622.50" stroke="#222" stroke-width="1"/>
<line x1="371.88" y1="652.50" x2="376.68" y2="652.50" stroke="#222" stroke-width="1"/>
<line x1="505.49" y1="612.30" x2="505.49" y2="644.60" stroke="#222" stroke-width="1"/>
<line x1="503.09" y1="612.50" x2="507.89" y2="612.50" stroke="#222" stroke-width="1"/>
<line x1="503.09" y1="644.50" x2="507.89" y2="644.50" stroke="#222" stroke-width="1"/>
<polyline points="314.15,675.70 325.08,654.50 341.48,641.00 374.28,637.20 505.49,627.80" fill="none" stroke="#222" stroke-width="1.15"/>
<polyline points="314.15,673.40 325.08,642.50 341.48,659.70 374.28,656.10 505.49,654.80" fill="none" stroke="#222" stroke-width="1.15"/>
<circle cx="314.15" cy="673.40" r="2.6" fill="#000"/>
<circle cx="325.08" cy="642.50" r="2.6" fill="#000"/>
<circle cx="341.48" cy="659.70" r="2.6" fill="#000"/>
<circle cx="374.28" cy="656.10" r="2.6" fill="#000"/>
<circle cx="505.49" cy="654.80" r="2.6" fill="#000"/>
<circle cx="314.15" cy="675.70" r="2.4" fill="#fff" stroke="#000" stroke-width="1"/>
<circle cx="325.08" cy="654.50" r="2.4" fill="#fff" stroke="#000" stroke-width="1"/>
<circle cx="341.48" cy="641.00" r="2.4" fill="#fff" stroke="#000" stroke-width="1"/>
<circle cx="374.28" cy="637.20" r="2.4" fill="#fff" stroke="#000" stroke-width="1"/>
<circle cx="505.49" cy="627.80" r="2.4" fill="#fff" stroke="#000" stroke-width="1"/>
<text x="325.08" y="631.70" text-anchor="middle" class="sy">†</text>
<text x="325.08" y="669.10" text-anchor="middle" class="sy">‡</text>
<text x="341.48" y="622.70" text-anchor="middle" class="sy">‡</text>
<text x="374.28" y="619.70" text-anchor="middle" class="sy">‡</text>
<text x="505.49" y="609.10" text-anchor="middle" class="sy">‡</text>
<text x="505.49" y="673.50" text-anchor="middle" class="sy">†</text>
<text transform="translate(54.50,738.10) scale(1,1.0)" text-anchor="middle" class="tk">0</text>
<text transform="translate(87.30,738.10) scale(1,1.0)" text-anchor="middle" class="tk">24</text>
<text transform="translate(120.10,738.10) scale(1,1.0)" text-anchor="middle" class="tk">48</text>
<text transform="translate(152.90,738.10) scale(1,1.0)" text-anchor="middle" class="tk">72</text>
<text transform="translate(185.70,738.10) scale(1,1.0)" text-anchor="middle" class="tk">96</text>
<text transform="translate(218.50,738.10) scale(1,1.0)" text-anchor="middle" class="tk">120</text>
<text transform="translate(251.30,738.10) scale(1,1.0)" text-anchor="middle" class="tk">144</text>
<text transform="translate(149.6,757.8) scale(1.02,0.93)" text-anchor="middle" class="hr">Hours</text>
<text transform="translate(314.50,738.10) scale(1,1.0)" text-anchor="middle" class="tk">0</text>
<text transform="translate(347.30,738.10) scale(1,1.0)" text-anchor="middle" class="tk">24</text>
<text transform="translate(380.10,738.10) scale(1,1.0)" text-anchor="middle" class="tk">48</text>
<text transform="translate(412.90,738.10) scale(1,1.0)" text-anchor="middle" class="tk">72</text>
<text transform="translate(445.70,738.10) scale(1,1.0)" text-anchor="middle" class="tk">96</text>
<text transform="translate(478.50,738.10) scale(1,1.0)" text-anchor="middle" class="tk">120</text>
<text transform="translate(511.30,738.10) scale(1,1.0)" text-anchor="middle" class="tk">144</text>
<text transform="translate(409.6,757.8) scale(1.02,0.93)" text-anchor="middle" class="hr">Hours</text>
</svg>
</body></html>
